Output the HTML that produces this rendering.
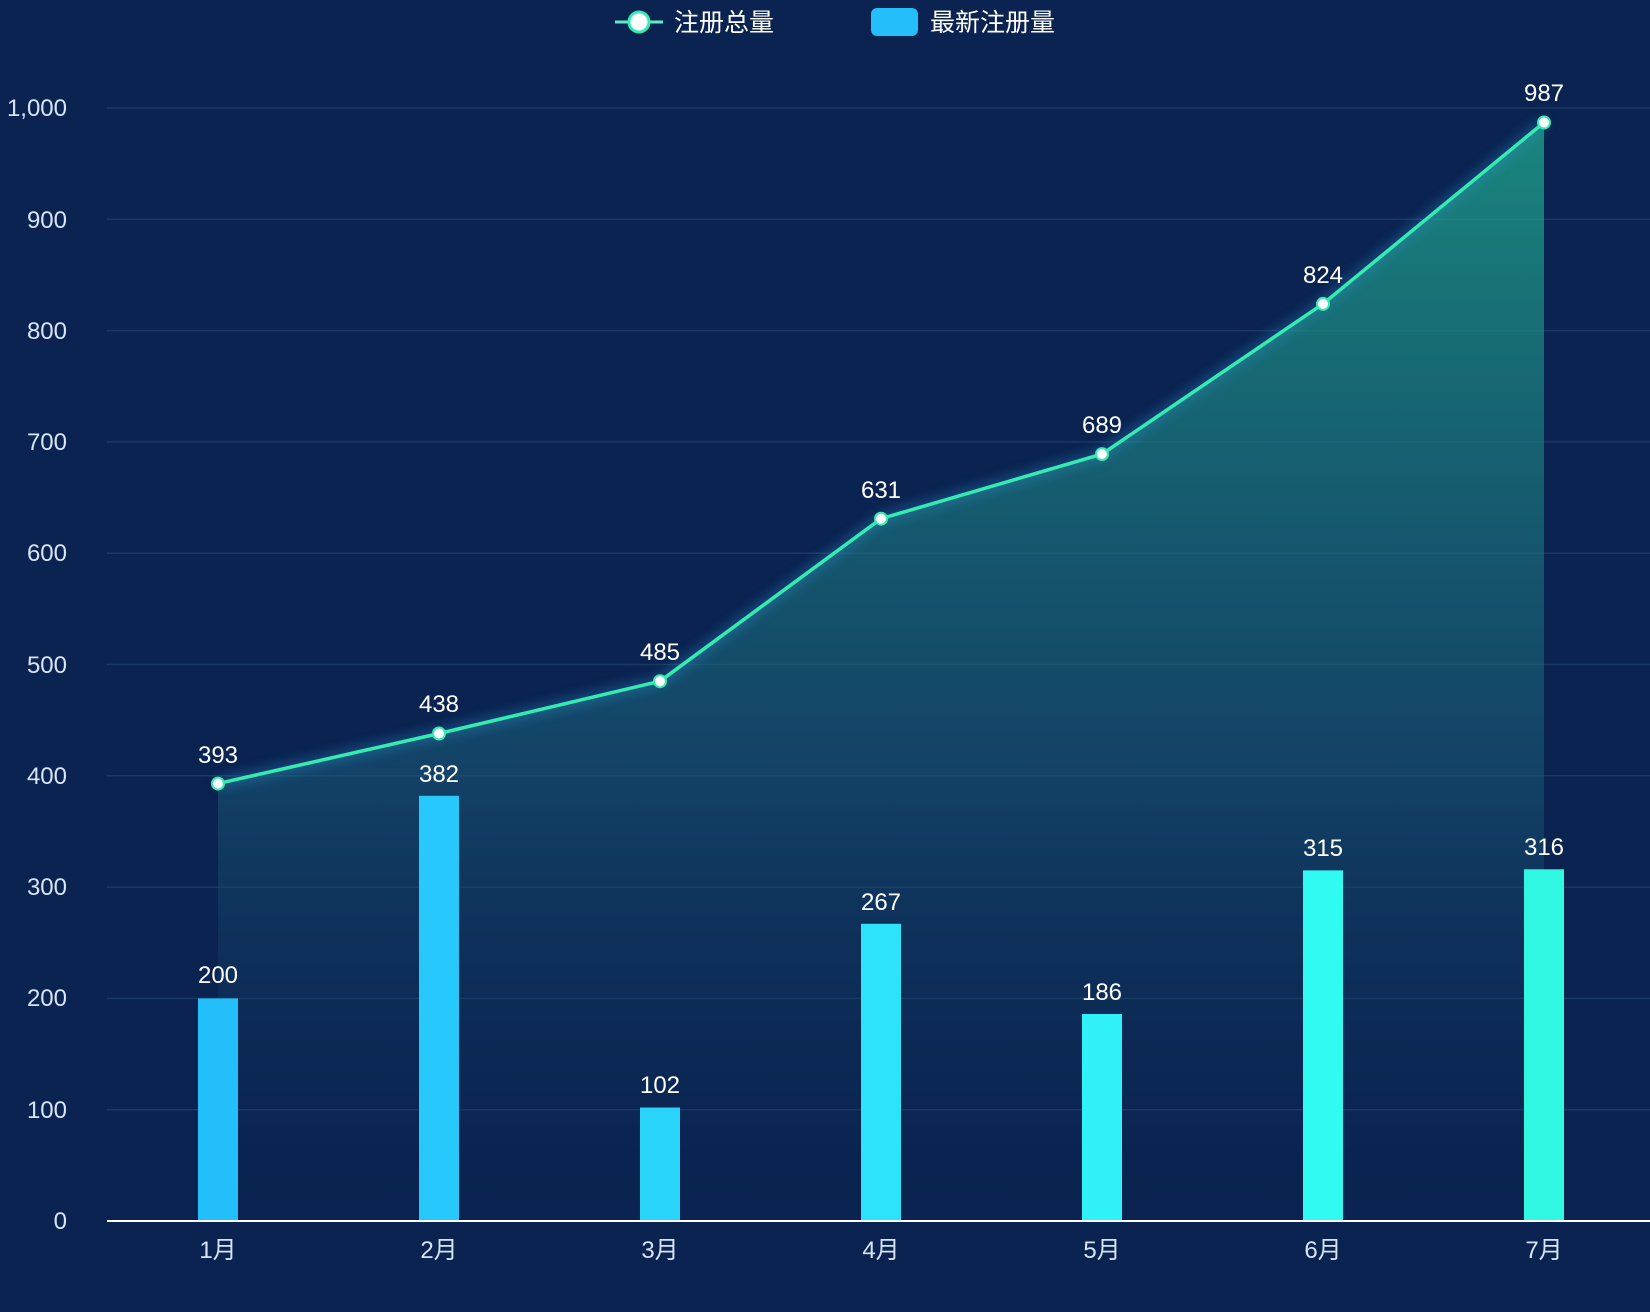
<!DOCTYPE html>
<html><head><meta charset="utf-8"><style>
html,body{margin:0;padding:0;background:#0a2350;}
svg{display:block;font-family:"Liberation Sans","Noto Sans CJK SC",sans-serif;}
</style></head><body>
<svg width="1650" height="1312" viewBox="0 0 1650 1312" xmlns="http://www.w3.org/2000/svg">
<defs>
<linearGradient id="area" x1="0" y1="122" x2="0" y2="1221" gradientUnits="userSpaceOnUse">
<stop offset="0" stop-color="#1fa88c" stop-opacity="0.75"/>
<stop offset="0.6" stop-color="#1a5a78" stop-opacity="0.55"/>
<stop offset="1" stop-color="#0a2350" stop-opacity="0.1"/>
</linearGradient>
<filter id="glow" x="-10%" y="-10%" width="120%" height="120%"><feGaussianBlur stdDeviation="6"/></filter>
</defs>
<rect width="1650" height="1312" fill="#0a2350"/>
<g stroke="#1a3963" stroke-width="1.5">
<line x1="107" x2="1650" y1="1109.7" y2="1109.7"/>
<line x1="107" x2="1650" y1="998.4" y2="998.4"/>
<line x1="107" x2="1650" y1="887.1" y2="887.1"/>
<line x1="107" x2="1650" y1="775.8" y2="775.8"/>
<line x1="107" x2="1650" y1="664.5" y2="664.5"/>
<line x1="107" x2="1650" y1="553.2" y2="553.2"/>
<line x1="107" x2="1650" y1="441.9" y2="441.9"/>
<line x1="107" x2="1650" y1="330.6" y2="330.6"/>
<line x1="107" x2="1650" y1="219.3" y2="219.3"/>
<line x1="107" x2="1650" y1="108" y2="108"/>
</g>
<g fill="#d6e4f5" font-size="24" text-anchor="end">
<text x="67" y="1229">0</text>
<text x="67" y="1118">100</text>
<text x="67" y="1006">200</text>
<text x="67" y="895">300</text>
<text x="67" y="784">400</text>
<text x="67" y="673">500</text>
<text x="67" y="561">600</text>
<text x="67" y="450">700</text>
<text x="67" y="339">800</text>
<text x="67" y="228">900</text>
<text x="67" y="116">1,000</text>
</g>
<polygon points="218,783.6 439,733.5 660,681.2 881,518.7 1102,454.1 1323,303.9 1544,122.5 1544,1221 218,1221" fill="url(#area)"/>
<g>
<rect x="198" y="998.4" width="40" height="222.6" fill="#23bffa"/>
<rect x="419" y="795.8" width="40" height="425.2" fill="#27c8fb"/>
<rect x="640" y="1107.5" width="40" height="113.5" fill="#29d4fa"/>
<rect x="861" y="923.8" width="40" height="297.2" fill="#2de3f9"/>
<rect x="1082" y="1014" width="40" height="207" fill="#30f0f8"/>
<rect x="1303" y="870.4" width="40" height="350.6" fill="#30fbf3"/>
<rect x="1524" y="869.3" width="40" height="351.7" fill="#2ff7e2"/>
</g>
<polyline points="218,783.6 439,733.5 660,681.2 881,518.7 1102,454.1 1323,303.9 1544,122.5" fill="none" stroke="#2e8fd0" stroke-width="8" opacity="0.5" filter="url(#glow)"/>
<polyline points="218,783.6 439,733.5 660,681.2 881,518.7 1102,454.1 1323,303.9 1544,122.5" fill="none" stroke="#35ecb0" stroke-width="3.5"/>
<g fill="#ffffff" stroke="#35ecb0" stroke-width="2">
<circle cx="218" cy="783.6" r="6"/><circle cx="439" cy="733.5" r="6"/><circle cx="660" cy="681.2" r="6"/>
<circle cx="881" cy="518.7" r="6"/><circle cx="1102" cy="454.1" r="6"/><circle cx="1323" cy="303.9" r="6"/><circle cx="1544" cy="122.5" r="6"/>
</g>
<g fill="#ffffff" font-size="24" text-anchor="middle">
<text x="218" y="763">393</text><text x="439" y="712">438</text><text x="660" y="660">485</text>
<text x="881" y="498">631</text><text x="1102" y="433">689</text><text x="1323" y="283">824</text><text x="1544" y="101">987</text>
<text x="218" y="983">200</text><text x="439" y="782">382</text><text x="660" y="1093">102</text>
<text x="881" y="910">267</text><text x="1102" y="1000">186</text><text x="1323" y="856">315</text><text x="1544" y="855">316</text>
</g>
<line x1="107" x2="1650" y1="1221" y2="1221" stroke="#ffffff" stroke-width="2"/>
<g fill="#d6e4f5" font-size="24" text-anchor="middle">
<text x="218" y="1258">1月</text><text x="439" y="1258">2月</text><text x="660" y="1258">3月</text>
<text x="881" y="1258">4月</text><text x="1102" y="1258">5月</text><text x="1323" y="1258">6月</text><text x="1544" y="1258">7月</text>
</g>
<line x1="615" x2="663" y1="22" y2="22" stroke="#5fe8c4" stroke-width="3"/>
<circle cx="639" cy="22" r="10" fill="#ffffff" stroke="#35ecb0" stroke-width="3"/>
<text x="674" y="31" fill="#ffffff" font-size="25">注册总量</text>
<rect x="871" y="8" width="47" height="28" rx="6" fill="#24bffa"/>
<text x="930" y="31" fill="#ffffff" font-size="25">最新注册量</text>
</svg>
</body></html>
